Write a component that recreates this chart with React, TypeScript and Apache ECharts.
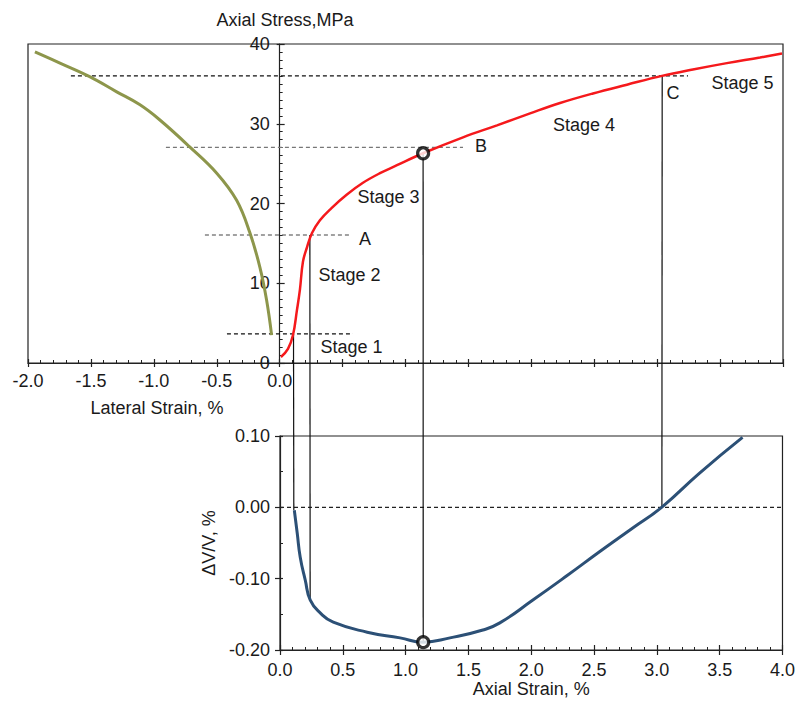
import { useEffect, useRef } from "react";
import * as echarts from "echarts";

// ---- Data ----
// Lateral strain (%) vs axial stress (MPa)
const lateralStrain = [-1.945, -1.746, -1.51, -1.295, -1.113, -0.954, -0.715, -0.5, -0.342, -0.236, -0.157, -0.104, -0.064];
const lateralStress = [39.0, 37.6, 35.9, 34.0, 32.4, 30.5, 27.1, 23.8, 20.4, 16.3, 12.0, 7.9, 3.5];

// Axial strain (%) vs axial stress (MPa)
const axialStrain = [0.01, 0.066, 0.106, 0.137, 0.161, 0.185, 0.217, 0.257, 0.32, 0.41, 0.532, 0.662, 0.797, 0.932, 1.139, 1.457, 1.727, 1.99, 2.228, 2.49, 2.76, 3.038, 3.284, 3.554, 3.817, 3.992];
const axialStress = [0.75, 1.76, 3.5, 6.6, 9.2, 12.7, 14.5, 16.3, 17.9, 19.4, 21.1, 22.6, 23.8, 24.8, 26.3, 28.3, 29.8, 31.3, 32.6, 33.8, 34.9, 36.0, 36.8, 37.6, 38.3, 38.8];

// Axial strain (%) vs volumetric strain dV/V (%)
const volAxialStrain = [0.114, 0.137, 0.161, 0.201, 0.241, 0.32, 0.424, 0.694, 0.956, 1.139, 1.353, 1.615, 1.75, 2.013, 2.283, 2.546, 2.808, 3.038, 3.34, 3.682];
const volStrain = [-0.004, -0.036, -0.07, -0.102, -0.13, -0.148, -0.161, -0.175, -0.183, -0.189, -0.183, -0.172, -0.162, -0.13, -0.096, -0.062, -0.029, 0.0, 0.048, 0.098];

// Stage boundary stress levels (dashed lines) and their strain extents
const boundaryStress = [36.0, 27.05, 16.05, 3.64];
const boundaryFrom = [-1.659, -0.904, -0.594, -0.419];
const boundaryTo = [3.245, 1.457, 0.567, 0.583];

// Vertical connectors: axial strain, stress on the top plot, dV/V on the bottom plot
const connectorStrain = [0.11, 0.24, 1.14, 3.04];
const connectorStress = [3.64, 16.05, 26.3, 36.0];
const connectorVol = [-0.004, -0.13, -0.189, 0.0];

// Highlighted point (dilatancy onset)
const markStrain = [1.14];
const markStress = [26.3];
const markVol = [-0.189];

// Zero reference line on the dV/V plot
const zeroLineStrain = [0, 4];
const zeroLineVol = [0, 0];

const FONT = '"Liberation Sans", Arial, Helvetica, sans-serif';
const TXT = "#1a1a1a";

const annotations = [
  { text: "Stage 5", x: 742.5, y: 83 },
  { text: "C", x: 673, y: 93 },
  { text: "Stage 4", x: 584, y: 125 },
  { text: "B", x: 481, y: 146 },
  { text: "Stage 3", x: 388.5, y: 197 },
  { text: "A", x: 365, y: 239 },
  { text: "Stage 2", x: 349.5, y: 275 },
  { text: "Stage 1", x: 351.5, y: 347 },
  { text: "Lateral Strain, %", x: 157, y: 408 },
  { text: "Axial Stress,MPa", x: 285, y: 20 },
];

const zip = (a: number[], b: number[]) => a.map((v, i) => [v, b[i]]);

// top grid geometry
const TOP_LEFT = 28;
const TOP_WIDTH = 755;
const X_MIN = -2;
const X_MAX = 4;
const ZERO_OFFSET = -(TOP_WIDTH * (0 - X_MIN)) / (X_MAX - X_MIN);

export default function App() {
  const ref = useRef<HTMLDivElement>(null);

  useEffect(() => {
    if (!ref.current) return;
    const chart = echarts.init(ref.current, undefined, { renderer: "svg" });

    const axisLineStyle = { color: "#222", width: 1.2 };
    const labelStyle = { color: TXT, fontSize: 18, fontFamily: FONT };

    const option: any = {
      animation: false,
      backgroundColor: "#fff",
      grid: [
        { left: TOP_LEFT, top: 44, width: TOP_WIDTH, height: 319, show: true, borderColor: "#222", borderWidth: 1.2, backgroundColor: "transparent" },
        { left: 280, top: 436, width: 503, height: 214, show: true, borderColor: "#222", borderWidth: 1.2, backgroundColor: "transparent" },
      ],
      xAxis: [
        {
          type: "value", gridIndex: 0, min: X_MIN, max: X_MAX, interval: 0.5, position: "bottom",
          axisLine: { show: true, onZero: false, lineStyle: axisLineStyle },
          axisTick: { show: true, inside: false, length: 4, lineStyle: axisLineStyle },
          axisLabel: { ...labelStyle, margin: 9, formatter: (v: number) => (v <= 0.0001 ? v.toFixed(1) : "") },
          splitLine: { show: false },
        },
        {
          type: "value", gridIndex: 0, min: X_MIN, max: X_MAX, interval: 0.5, position: "bottom",
          axisLine: { show: false, onZero: false },
          axisTick: { show: true, inside: true, length: 4, lineStyle: axisLineStyle },
          minorTick: { show: true, splitNumber: 5, length: 3, lineStyle: { color: "#222", width: 1 } },
          axisLabel: { show: false },
          splitLine: { show: false },
        },
        {
          type: "value", gridIndex: 1, min: 0, max: 4, interval: 0.5, position: "bottom",
          axisLine: { show: true, onZero: false, lineStyle: axisLineStyle },
          axisTick: { show: true, inside: false, length: 5, lineStyle: axisLineStyle },
          axisLabel: { ...labelStyle, margin: 11, formatter: (v: number) => v.toFixed(1) },
          splitLine: { show: false },
          name: "Axial Strain, %", nameLocation: "middle", nameGap: 30,
          nameTextStyle: { ...labelStyle },
        },
        {
          type: "value", gridIndex: 1, min: 0, max: 4, interval: 0.5, position: "bottom",
          axisLine: { show: false, onZero: false },
          axisTick: { show: true, inside: true, length: 5, lineStyle: axisLineStyle },
          minorTick: { show: true, splitNumber: 5, length: 3, lineStyle: { color: "#222", width: 1 } },
          axisLabel: { show: false },
          splitLine: { show: false },
        },
      ],
      yAxis: [
        {
          type: "value", gridIndex: 0, min: 0, max: 40, interval: 10, position: "left", offset: ZERO_OFFSET,
          axisLine: { show: true, onZero: false, lineStyle: axisLineStyle },
          axisTick: { show: true, inside: false, length: 3, lineStyle: axisLineStyle },
          axisLabel: { ...labelStyle, margin: 10 },
          splitLine: { show: false },
        },
        {
          type: "value", gridIndex: 0, min: 0, max: 40, interval: 10, position: "left", offset: ZERO_OFFSET,
          axisLine: { show: false, onZero: false },
          axisTick: { show: true, inside: true, length: 5, lineStyle: axisLineStyle },
          minorTick: { show: true, splitNumber: 10, length: 3, lineStyle: { color: "#222", width: 1 } },
          axisLabel: { show: false },
          splitLine: { show: false },
        },
        {
          type: "value", gridIndex: 1, min: -0.2, max: 0.1, interval: 0.1, position: "left",
          axisLine: { show: true, onZero: false, lineStyle: axisLineStyle },
          axisTick: { show: true, inside: false, length: 5, lineStyle: axisLineStyle },
          axisLabel: { ...labelStyle, margin: 10, formatter: (v: number) => v.toFixed(2) },
          splitLine: { show: false },
          name: "\u0394V/V, %", nameLocation: "middle", nameGap: 58, nameRotate: 90,
          nameTextStyle: { ...labelStyle },
        },
        {
          type: "value", gridIndex: 1, min: -0.2, max: 0.1, interval: 0.1, position: "left",
          axisLine: { show: false, onZero: false },
          axisTick: { show: true, inside: true, length: 3, lineStyle: axisLineStyle },
          minorTick: { show: true, splitNumber: 2, length: 3, lineStyle: { color: "#222", width: 1 } },
          axisLabel: { show: false },
          splitLine: { show: false },
        },
      ],
      series: [
        ...boundaryStress.map((s, i) => ({
          type: "line", xAxisIndex: 0, yAxisIndex: 0, silent: true, symbol: "none",
          data: [[boundaryFrom[i], s], [boundaryTo[i], s]],
          lineStyle: { color: i === 1 ? "#777" : i === 2 ? "#444" : "#111", width: 1.2, type: [4, 3] },
          z: 1,
        })),
        {
          type: "line", xAxisIndex: 2, yAxisIndex: 2, silent: true, symbol: "none",
          data: zip(zeroLineStrain, zeroLineVol),
          lineStyle: { color: "#222", width: 1.2, type: [4, 3] },
          z: 1,
        },
        {
          name: "Lateral", type: "line", xAxisIndex: 0, yAxisIndex: 0, symbol: "none", smooth: 0.4,
          data: zip(lateralStrain, lateralStress),
          lineStyle: { color: "#8d964b", width: 3 },
          z: 3,
        },
        {
          name: "Axial", type: "line", xAxisIndex: 0, yAxisIndex: 0, symbol: "none", smooth: 0.4,
          data: zip(axialStrain, axialStress),
          lineStyle: { color: "#f5191c", width: 2.5 },
          z: 3,
        },
        {
          name: "Volumetric", type: "line", xAxisIndex: 2, yAxisIndex: 2, symbol: "none", smooth: 0.5,
          data: zip(volAxialStrain, volStrain),
          lineStyle: { color: "#2c5076", width: 3 },
          z: 3,
        },
        {
          type: "scatter", xAxisIndex: 0, yAxisIndex: 0, symbol: "circle", symbolSize: 11,
          data: zip(markStrain, markStress),
          itemStyle: { color: "#fff", borderColor: "#000", borderWidth: 3.2 },
          z: 5,
        },
        {
          type: "scatter", xAxisIndex: 2, yAxisIndex: 2, symbol: "circle", symbolSize: 11,
          data: zip(markStrain, markVol),
          itemStyle: { color: "#fff", borderColor: "#000", borderWidth: 3.2 },
          z: 5,
        },
      ],
    };

    chart.setOption(option);

    const texts = annotations.map((a) => ({
      type: "text",
      x: a.x,
      y: a.y,
      silent: true,
      style: {
        text: a.text,
        fill: TXT,
        font: `18px ${FONT}`,
        align: "center",
        verticalAlign: "middle",
        textAlign: "center",
        textVerticalAlign: "middle",
      },
    }));

    const connectors = connectorStrain.map((s, i) => {
      const p1 = chart.convertToPixel({ xAxisIndex: 0, yAxisIndex: 0 } as any, [s, connectorStress[i]]) as number[];
      const p2 = chart.convertToPixel({ xAxisIndex: 2, yAxisIndex: 2 } as any, [s, connectorVol[i]]) as number[];
      return {
        type: "line",
        silent: true,
        z: 2,
        shape: { x1: p1[0], y1: p1[1], x2: p2[0], y2: p2[1] },
        style: { stroke: "#111", lineWidth: 1.2 },
      };
    });

    chart.setOption({ graphic: { elements: [...texts, ...connectors] } });

    return () => chart.dispose();
  }, []);

  return (
    <div
      ref={ref}
      style={{ position: "absolute", left: 0, top: 0, width: 798, height: 701 }}
    />
  );
}
